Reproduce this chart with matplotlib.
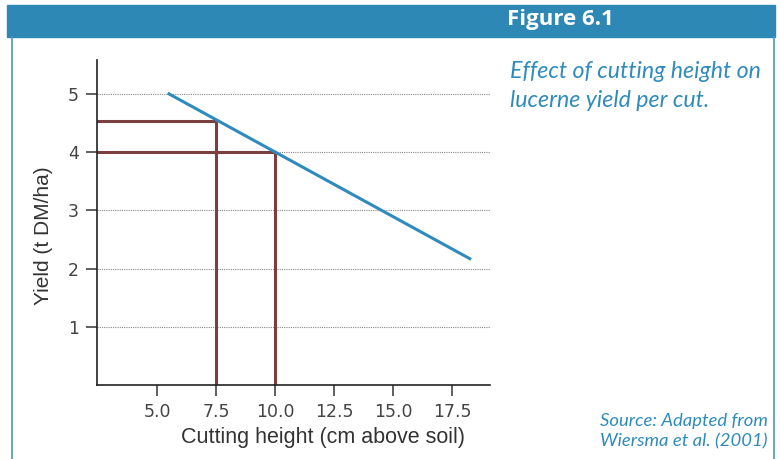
import matplotlib
matplotlib.use("Agg")
import matplotlib.pyplot as plt
from matplotlib.patches import Rectangle
from matplotlib.lines import Line2D

plt.rcParams['font.family'] = ['Liberation Sans', 'DejaVu Sans']

# yield response line (cutting height cm, yield t DM/ha)
height = [5.5, 18.25]
yield_t = [5.0, 2.17]

# the two marked cutting heights and their yields
marked_heights = [7.5, 10.0]
marked_yields = [4.53, 4.0]

xticks = [5.0, 7.5, 10.0, 12.5, 15.0, 17.5]
yticks = [1, 2, 3, 4, 5]

blue = "#2f8bbd"
brown = "#7b3f40"

fig = plt.figure(figsize=(7.8, 4.59), dpi=100)
ax = fig.add_axes([0.1244, 0.1612, 0.5036, 0.7078])

for y in yticks:
    ax.axhline(y, color="#888888", lw=0.8, ls=(0, (1, 1)), zorder=1)

for xh, yv in zip(marked_heights, marked_yields):
    ax.plot([2.45, xh], [yv, yv], color=brown, lw=2.2, zorder=2)
    ax.plot([xh, xh], [0, yv], color=brown, lw=2.2, zorder=2)

ax.plot(height, yield_t, color=blue, lw=2.2, zorder=3)

ax.set_xlim(2.45, 19.1)
ax.set_ylim(0, 5.58)
ax.set_xticks(xticks)
ax.set_xticklabels([f"{v:.1f}" for v in xticks], family="DejaVu Sans")
ax.set_yticks(yticks)
ax.set_yticklabels([str(v) for v in yticks], family="DejaVu Sans")
ax.tick_params(labelsize=12.5, colors="#444444", length=8, width=1.2, pad=5)
for s in ["top", "right"]:
    ax.spines[s].set_visible(False)
for s in ["left", "bottom"]:
    ax.spines[s].set_linewidth(1.2)
    ax.spines[s].set_color("#222222")

ax.set_xlabel("Cutting height (cm above soil)", fontsize=15.5, color="#333333")
ax.xaxis.set_label_coords(0.575, -0.128)
ax.set_ylabel("Yield (t DM/ha)", fontsize=15, color="#333333")
ax.yaxis.set_label_coords(-0.112, 0.46)

# frame: header bar and side borders
fig.patches.append(Rectangle((7 / 780, 1 - 37 / 459), 768 / 780, 32 / 459,
                             transform=fig.transFigure, color="#2e88b6", zorder=0))
for x in [11.5 / 780, 774 / 780]:
    fig.lines.append(Line2D([x, x], [0, 1 - 37 / 459], transform=fig.transFigure,
                            color="#4a97c6", lw=1.2))

fig.text(560 / 780, 1 - 20 / 459, "Figure 6.1", color="white", fontsize=16,
         fontweight="bold", family=["Open Sans", "DejaVu Sans"],
         ha="center", va="center")
fig.text(510 / 780, 1 - 86 / 459, "Effect of cutting height on\nlucerne yield per cut.",
         color=blue, fontsize=16.7, style="italic",
         family=["Lato", "DejaVu Sans"], ha="left", va="center", linespacing=1.5)
fig.text(768 / 780, 1 - 431 / 459, "Source: Adapted from\nWiersma et al. (2001)",
         color=blue, fontsize=13.3, style="italic",
         family=["Lato", "DejaVu Sans"], ha="right", va="center", linespacing=1.35)

fig.savefig("out.png", dpi=100)
